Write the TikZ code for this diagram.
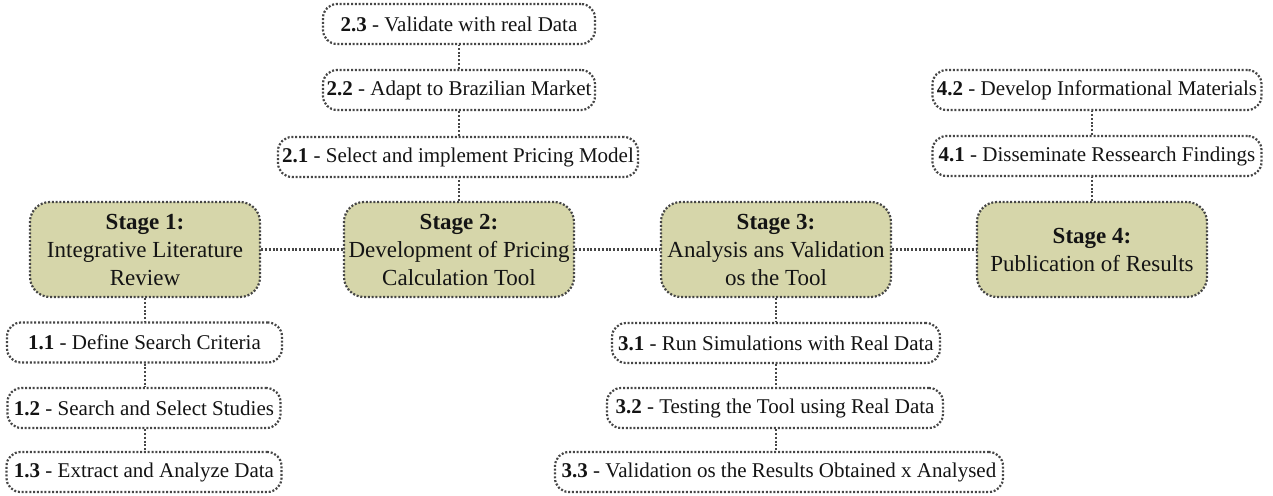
\documentclass[tikz,border=0pt]{standalone}
\usepackage{fontspec}
\setmainfont{Liberation Serif}
\definecolor{stagefill}{RGB}{214,214,170}
\definecolor{edgegray}{RGB}{70,70,70}
\definecolor{ink}{RGB}{20,20,20}
\begin{document}
\begin{tikzpicture}[x=1pt,y=-1pt,
  link/.style={draw=edgegray, line width=2.2pt, dash pattern=on 2pt off 1.8pt},
  stagebox/.style={link, fill=stagefill, rounded corners=20pt, minimum width=230pt,
    minimum height=95pt, inner sep=0pt, align=center,
    font=\fontsize{23}{28}\selectfont, text=ink},
  taskbox/.style={link, fill=white, rounded corners=14pt, minimum height=40pt,
    inner sep=0pt, font=\fontsize{21}{24}\selectfont, text=ink}]
\useasboundingbox (0,0) rectangle (1273,495);

% stages
\node[stagebox] (s1) at (145,249.5) {\textbf{Stage 1:}\\Integrative Literature\\Review};
\node[stagebox] (s2) at (459,249.5) {\textbf{Stage 2:}\\Development of Pricing\\Calculation Tool};
\node[stagebox] (s3) at (776,249.5) {\textbf{Stage 3:}\\Analysis ans Validation\\os the Tool};
\node[stagebox] (s4) at (1092,249.5) {\textbf{Stage 4:}\\Publication of Results};

% tasks of stage 1
\node[taskbox, minimum width=275pt] (t11) at (144.5,342.5) {\textbf{1.1} - Define Search Criteria};
\node[taskbox, minimum width=273pt] (t12) at (144,408) {\textbf{1.2} - Search and Select Studies};
\node[taskbox, minimum width=275pt] (t13) at (144,472) {\textbf{1.3} - Extract and Analyze Data};

% tasks of stage 2
\node[taskbox, minimum width=360pt] (t21) at (458,157) {\textbf{2.1} - Select and implement Pricing Model};
\node[taskbox, minimum width=272pt] (t22) at (459,90) {\textbf{2.2} - Adapt to Brazilian Market};
\node[taskbox, minimum width=272pt] (t23) at (459,24) {\textbf{2.3} - Validate with real Data};

% tasks of stage 3
\node[taskbox, minimum width=328pt] (t31) at (776,343) {\textbf{3.1} - Run Simulations with Real Data};
\node[taskbox, minimum width=336pt] (t32) at (775,408) {\textbf{3.2} - Testing the Tool using Real Data};
\node[taskbox, minimum width=448pt] (t33) at (779,472) {\textbf{3.3} - Validation os the Results Obtained x Analysed};

% tasks of stage 4
\node[taskbox, minimum width=329pt] (t41) at (1097,156) {\textbf{4.1} - Disseminate Ressearch Findings};
\node[taskbox, minimum width=329pt] (t42) at (1097,90) {\textbf{4.2} - Develop Informational Materials};

% stage chain
\draw[link] (s1.east) -- (s2.west);
\draw[link] (s2.east) -- (s3.west);
\draw[link] (s3.east) -- (s4.west);

% task chains
\draw[link] (s1.south) -- (s1.south |- t11.north);
\draw[link] (t11.south -| s1.south) -- (s1.south |- t12.north);
\draw[link] (t12.south -| s1.south) -- (s1.south |- t13.north);

\draw[link] (s2.north) -- (s2.north |- t21.south);
\draw[link] (t21.north -| s2.north) -- (s2.north |- t22.south);
\draw[link] (t22.north -| s2.north) -- (s2.north |- t23.south);

\draw[link] (s3.south) -- (s3.south |- t31.north);
\draw[link] (t31.south -| s3.south) -- (s3.south |- t32.north);
\draw[link] (t32.south -| s3.south) -- (s3.south |- t33.north);

\draw[link] (s4.north) -- (s4.north |- t41.south);
\draw[link] (t41.north -| s4.north) -- (s4.north |- t42.south);
\end{tikzpicture}
\end{document}
